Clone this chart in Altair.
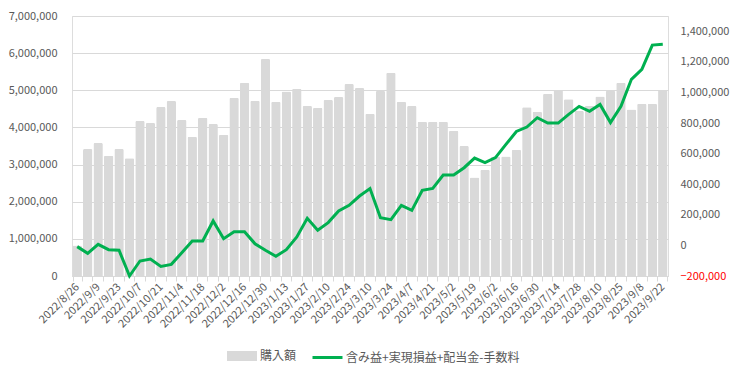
import altair as alt
import pandas as pd

dates = ["2022/8/26","2022/9/2","2022/9/9","2022/9/16","2022/9/23","2022/9/30","2022/10/7","2022/10/14",
         "2022/10/21","2022/10/28","2022/11/4","2022/11/11","2022/11/18","2022/11/25","2022/12/2","2022/12/9",
         "2022/12/16","2022/12/23","2022/12/30","2023/1/6","2023/1/13","2023/1/20","2023/1/27","2023/2/3",
         "2023/2/10","2023/2/17","2023/2/24","2023/3/3","2023/3/10","2023/3/17","2023/3/24","2023/3/31",
         "2023/4/7","2023/4/14","2023/4/21","2023/4/28","2023/5/2","2023/5/12","2023/5/19","2023/5/26",
         "2023/6/2","2023/6/9","2023/6/16","2023/6/23","2023/6/30","2023/7/7","2023/7/14","2023/7/21",
         "2023/7/28","2023/8/4","2023/8/10","2023/8/18","2023/8/25","2023/9/1","2023/9/8","2023/9/15","2023/9/22"]

purchase = [820000, 3420000, 3580000, 3240000, 3420000, 3170000, 4170000, 4120000,
            4550000, 4710000, 4200000, 3750000, 4260000, 4090000, 3800000, 4800000,
            5200000, 4720000, 5840000, 4690000, 4970000, 5040000, 4580000, 4530000,
            4740000, 4820000, 5170000, 5060000, 4370000, 4980000, 5470000, 4690000,
            4580000, 4150000, 4150000, 4150000, 3910000, 3500000, 2650000, 2860000,
            3210000, 3220000, 3400000, 4540000, 4420000, 4910000, 5010000, 4760000,
            4440000, 4580000, 4830000, 4990000, 5200000, 4480000, 4640000, 4640000, 5010000]

profit = [-8000, -52000, 7000, -28000, -32000, -200000, -102000, -89000,
          -137000, -124000, -48000, 29000, 29000, 160000, 44000, 90000,
          90000, 11000, -32000, -71000, -28000, 55000, 177000, 99000,
          149000, 225000, 262000, 323000, 372000, 181000, 168000, 262000,
          229000, 360000, 373000, 460000, 460000, 508000, 571000, 541000,
          574000, 661000, 745000, 774000, 835000, 800000, 800000, 857000,
          909000, 877000, 922000, 803000, 909000, 1086000, 1151000, 1310000, 1315000]

left_ticks = [0, 1000000, 2000000, 3000000, 4000000, 5000000, 6000000, 7000000]
right_ticks = [-200000, 0, 200000, 400000, 600000, 800000, 1000000, 1200000, 1400000]

name_bar = "購入額"
name_line = "含み益+実現損益+配当金-手数料"

df = pd.DataFrame({"date": dates, "purchase": purchase, "profit": profit,
                   "s1": name_bar, "s2": name_line})

labeled = dates[::2]
label_expr = "indexof([" + ",".join("'" + d + "'" for d in labeled) + "], datum.value) >= 0 ? datum.label : ''"

FONT = "Noto Sans CJK JP"
GREY = "#595959"

x_enc = alt.X("date:N", sort=dates, title=None,
              scale=alt.Scale(paddingInner=0.1, paddingOuter=0.05),
              axis=alt.Axis(labelAngle=-45, labelAlign="right", labelBaseline="middle",
                            labelExpr=label_expr, labelOverlap=False, labelPadding=4,
                            labelFontSize=11, labelColor=GREY, labelFont=FONT,
                            tickBand="extent", tickSize=5, tickColor="#d9d9d9",
                            domainColor="#d9d9d9", grid=False))

bars = alt.Chart(df).mark_bar(cornerRadiusTopLeft=1.5, cornerRadiusTopRight=1.5).encode(
    x=x_enc,
    y=alt.Y("purchase:Q", title=None,
            scale=alt.Scale(domain=[0, 7000000], nice=False, zero=False),
            axis=alt.Axis(values=left_ticks, format=",.0f", grid=True, gridColor="#d9d9d9",
                          domain=False, ticks=False, labelPadding=15, labelFontSize=11,
                          labelColor=GREY, labelFont=FONT)),
    fill=alt.Fill("s1:N", title=None,
                  scale=alt.Scale(domain=[name_bar], range=["#d9d9d9"]),
                  legend=alt.Legend(orient="none", legendX=160, legendY=330,
                                    symbolType="M-1.5,-0.5H1.5V0.5H-1.5Z", symbolSize=400,
                                    symbolStrokeWidth=0, labelOffset=8, labelLimit=300,
                                    labelFontSize=12, labelColor=GREY, labelFont=FONT)),
)

line = alt.Chart(df).mark_line(strokeWidth=3).encode(
    x=alt.X("date:N", sort=dates),
    y=alt.Y("profit:Q", title=None,
            scale=alt.Scale(domain=[-200000, 1500000], nice=False, zero=False),
            axis=alt.Axis(orient="right", values=right_ticks, format=",.0f", grid=False,
                          domain=False, ticks=False, labelPadding=12, labelFontSize=11,
                          labelFont=FONT,
                          labelColor={"expr": "datum.value < 0 ? '#ff0000' : '#595959'"})),
    stroke=alt.Stroke("s2:N", title=None,
                      scale=alt.Scale(domain=[name_line], range=["#00b050"]),
                      legend=alt.Legend(orient="none", legendX=239, legendY=325,
                                        symbolType="stroke", symbolSize=900,
                                        symbolStrokeWidth=3, labelOffset=2, labelLimit=300,
                                        labelFontSize=12, labelColor=GREY, labelFont=FONT)),
)

chart = alt.layer(bars, line).resolve_scale(y="independent").properties(
    width=596, height=260,
    autosize=alt.AutoSizeParams(type="none"),
    padding={"left": 64, "top": 8, "right": 64, "bottom": 90},
).configure_view(stroke=None).configure(background="white")

chart.save("out.html", embed_options={"renderer": "svg", "actions": False})
